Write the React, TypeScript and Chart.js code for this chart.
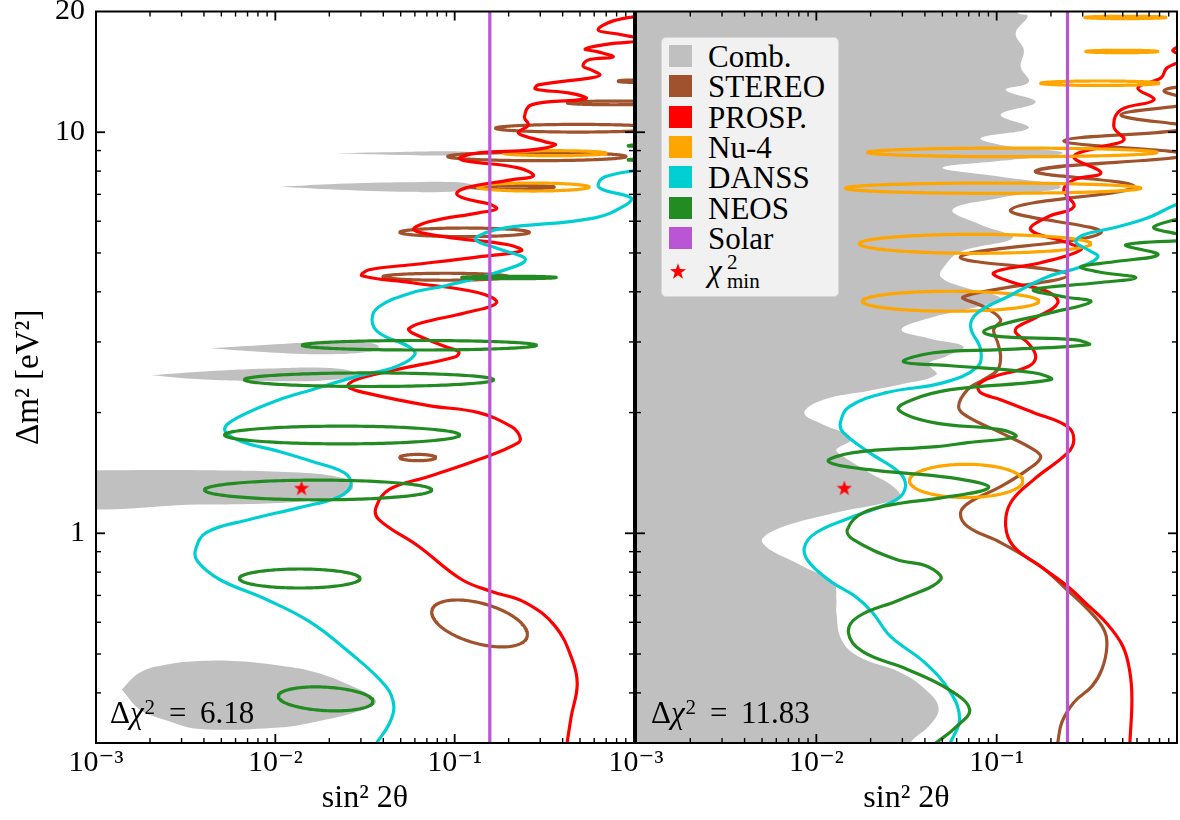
import React, { useEffect, useRef } from 'react';
import { Chart, registerables } from 'chart.js';

Chart.register(...registerables);

type P = [number, number];

const FONT = '"Liberation Serif", "DejaVu Serif", serif';
Chart.defaults.font.family = FONT;

// ---------- colours ----------
const C_COMB = '#c0c0c0';
const C_STEREO = '#a0522d';
const C_PROSP = '#ff0000';
const C_NU4 = '#ffa500';
const C_DANSS = '#00ced1';
const C_NEOS = '#228b22';
const C_SOLAR = '#ba55d3';

// ---------- axes ----------
const X_RANGE: P = [0.001, 1];
const Y_RANGE: P = [0.3, 20];
const X_LABEL_TICKS = [0.001, 0.01, 0.1, 1];
const X_TICK_LABELS = ['10⁻³', '10⁻²', '10⁻¹', ''];
const Y_LABEL_TICKS = [1, 10, 20];
const Y_TICK_LABELS = ['1', '10', '20'];
const X_MAJOR_TICKS = [0.001, 0.01, 0.1, 1];
const X_MINOR_TICKS = [0.002, 0.003, 0.004, 0.005, 0.006, 0.007, 0.008, 0.009, 0.02, 0.03, 0.04, 0.05, 0.06, 0.07, 0.08, 0.09, 0.2, 0.3, 0.4, 0.5, 0.6, 0.7, 0.8, 0.9];
const Y_MAJOR_TICKS = [1, 10];
const Y_MINOR_TICKS = [0.3, 0.4, 0.5, 0.6, 0.7, 0.8, 0.9, 2, 3, 4, 5, 6, 7, 8, 9, 20];
const X_TITLE = 'sin² 2θ';
const Y_TITLE = 'Δm² [eV²]';

// ---------- legend ----------
const LEGEND_LABELS = ['Comb.', 'STEREO', 'PROSP.', 'Nu-4', 'DANSS', 'NEOS', 'Solar'];
const LEGEND_COLORS = [C_COMB, C_STEREO, C_PROSP, C_NU4, C_DANSS, C_NEOS, C_SOLAR];
const DCHI2_LEFT = '6.18';
const DCHI2_RIGHT = '11.83';

// ---------- left panel data (sin^2 2θ, Δm^2) ----------
const GRAY_LEFT_1: P[] = [[0.02183, 8.867], [0.0489, 8.933], [0.1052, 8.959], [0.1395, 8.857], [0.1052, 8.755], [0.0489, 8.78], [0.02183, 8.867]];
const GRAY_LEFT_2: P[] = [[0.01066, 7.309], [0.01995, 7.414], [0.0489, 7.499], [0.1052, 7.499], [0.1325, 7.309], [0.1052, 7.123], [0.0489, 7.102], [0.01995, 7.205], [0.01066, 7.309]];
const GRAY_LEFT_3: P[] = [[0.00441, 2.894], [0.00815, 2.944], [0.01756, 2.996], [0.0333, 2.987], [0.0378, 2.919], [0.0333, 2.836], [0.01756, 2.796], [0.00815, 2.836], [0.00441, 2.894]];
const GRAY_LEFT_4: P[] = [[0.002047, 2.478], [0.00378, 2.529], [0.01052, 2.58], [0.02267, 2.573], [0.02818, 2.5], [0.02267, 2.423], [0.01052, 2.395], [0.00378, 2.423], [0.002047, 2.478]];
const GRAY_LEFT_5: P[] = [[0.000631, 1.433], [0.00378, 1.437], [0.0136, 1.417], [0.02417, 1.369], [0.02713, 1.307], [0.02417, 1.249], [0.0136, 1.199], [0.00378, 1.179], [0.000631, 1.179], [0.000631, 1.433]];
const GRAY_LEFT_6: P[] = [[0.001394, 0.4081], [0.001756, 0.4499], [0.00248, 0.471], [0.00378, 0.4805], [0.00631, 0.48], [0.01052, 0.4683], [0.01605, 0.4525], [0.02479, 0.4223], [0.0364, 0.3831], [0.0312, 0.3638], [0.01605, 0.3377], [0.01052, 0.3281], [0.00378, 0.3253], [0.00248, 0.3416], [0.001756, 0.3638], [0.001394, 0.4081]];

const PROSP_LEFT: P[] = [[0.424, 0.301], [0.447, 0.35], [0.4825, 0.42], [0.452, 0.4847], [0.364, 0.586], [0.248, 0.672], [0.1605, 0.716], [0.1094, 0.767], [0.0631, 0.927], [0.0378, 1.082], [0.0364, 1.159], [0.043, 1.285], [0.0717, 1.385], [0.136, 1.527], [0.2268, 1.683], [0.2297, 1.752], [0.2073, 1.844], [0.136, 1.999], [0.0717, 2.081], [0.0333, 2.229], [0.02544, 2.321], [0.02818, 2.416], [0.047, 2.558], [0.1013, 2.756], [0.1052, 2.836], [0.0891, 2.919], [0.0577, 3.163], [0.0555, 3.236], [0.0656, 3.35], [0.1151, 3.547], [0.1712, 3.757], [0.136, 3.979], [0.0577, 4.214], [0.03044, 4.387], [0.0333, 4.54], [0.0577, 4.672], [0.136, 4.891], [0.2356, 5.063], [0.1995, 5.24], [0.0891, 5.486], [0.0592, 5.711], [0.0717, 5.979], [0.136, 6.296], [0.1712, 6.442], [0.1545, 6.629], [0.1151, 6.822], [0.1026, 7.02], [0.1151, 7.267], [0.2073, 7.608], [0.2748, 7.785], [0.2268, 8.15], [0.1151, 8.484], [0.1066, 8.631], [0.136, 8.882], [0.2678, 9.036], [0.364, 9.299], [0.3203, 9.461], [0.2356, 9.849], [0.2268, 10.01], [0.2577, 10.43], [0.2448, 10.92], [0.2678, 11.7], [0.4886, 12.04], [0.5412, 12.18], [0.43, 12.53], [0.2818, 12.82], [0.2929, 13.12], [0.577, 13.66], [0.6474, 13.9], [0.577, 14.3], [0.5208, 14.63], [0.5553, 15.14], [0.7646, 15.4], [0.631, 15.86], [0.5342, 16.13], [0.7171, 16.59], [1.122, 16.98], [0.815, 17.57], [0.631, 17.98], [0.7646, 18.95], [1.196, 19.61]];

const DANSS_LEFT: P[] = [[0.03687, 0.301], [0.043, 0.334], [0.0458, 0.37], [0.0414, 0.415], [0.02479, 0.513], [0.01545, 0.603], [0.00891, 0.684], [0.00489, 0.767], [0.003687, 0.85], [0.003594, 0.911], [0.004136, 1.005], [0.00717, 1.082], [0.0136, 1.159], [0.02267, 1.234], [0.02644, 1.3225], [0.02417, 1.4165], [0.01605, 1.51], [0.01052, 1.599], [0.00631, 1.702], [0.00521, 1.813], [0.00615, 1.942], [0.01052, 2.154], [0.01605, 2.281], [0.02818, 2.458], [0.047, 2.602], [0.05995, 2.788], [0.0555, 2.919], [0.0378, 3.163], [0.0346, 3.408], [0.0378, 3.672], [0.0577, 3.979], [0.0891, 4.142], [0.169, 4.463], [0.248, 4.808], [0.1755, 5.121], [0.1308, 5.392], [0.1487, 5.614], [0.192, 5.777], [0.6072, 6.118], [0.9028, 6.591], [0.9623, 6.861], [0.6727, 7.184], [0.631, 7.393], [0.6901, 7.74], [1.052, 8.057]];

// rings: [x left, x right, y low, y high, (y at left tip, y at right tip)]
const NEOS_LEFT_RINGS: number[][] = [
  [0.1094, 0.3686, 4.312, 4.374],
  [0.01413, 0.2856, 2.864, 3.025],
  [0.00673, 0.1647, 2.323, 2.511],
  [0.00521, 0.1066, 1.671, 1.85],
  [0.004031, 0.0745, 1.212, 1.357],
  [0.00631, 0.02966, 0.7304, 0.8146],
  [0.01039, 0.03503, 0.3607, 0.414, 0.392, 0.3809],
  [0.926, 2.0, 9.2, 9.31],
  [0.926, 2.0, 8.49, 8.58],
];
const STEREO_LEFT_RINGS: number[][] = [
  [0.04948, 0.07839, 1.517, 1.573],
  [0.0745, 0.2544, 0.5207, 0.6819, 0.6347, 0.5594],
  [0.04948, 0.261, 5.492, 5.77],
  [0.03981, 0.1995, 4.275, 4.45],
  [0.1227, 0.3594, 7.225, 7.371],
  [0.09144, 0.903, 8.494, 8.908],
  [0.169, 1.4, 10.01, 10.46],
  [0.4244, 1.4, 11.71, 11.96],
  [0.815, 1.3, 13.31, 13.5],
];
const NU4_LEFT_RINGS: number[][] = [
  [0.1872, 0.6989, 8.74, 8.995],
  [0.1342, 0.5623, 7.135, 7.469],
];
const SOLAR_LEFT_X = 0.157;
const CHI2_MIN_LEFT: P = [0.014, 1.3];

// ---------- right panel data ----------
const GRAY_RIGHT: P[] = [[0.0009, 21], [0.1308, 20.76], [0.1308, 19.83], [0.1487, 19.49], [0.1275, 17.67], [0.1413, 16.04], [0.136, 14.55], [0.1506, 13.35], [0.1122, 12.75], [0.1647, 11.9], [0.1052, 11.05], [0.1506, 10.25], [0.0815, 9.68], [0.1052, 9.299], [0.2326, 8.882], [0.1052, 8.484], [0.0501, 8.15], [0.1052, 7.74], [0.2268, 7.309], [0.1052, 6.861], [0.0569, 6.405], [0.0815, 5.88], [0.1227, 5.454], [0.0631, 5.034], [0.0521, 4.672], [0.0489, 4.362], [0.0673, 4.095], [0.1052, 3.866], [0.0869, 3.714], [0.043, 3.447], [0.02966, 3.218], [0.043, 3.056], [0.0656, 2.919], [0.0521, 2.756], [0.0419, 2.647], [0.0464, 2.487], [0.02929, 2.348], [0.0197, 2.268], [0.01094, 2.154], [0.00858, 1.999], [0.01094, 1.866], [0.01413, 1.782], [0.01565, 1.712], [0.01292, 1.617], [0.01413, 1.554], [0.0197, 1.4165], [0.02679, 1.307], [0.02891, 1.227], [0.01292, 1.126], [0.005995, 1.022], [0.005012, 0.9482], [0.00847, 0.8263], [0.01243, 0.7539], [0.01292, 0.6839], [0.01292, 0.6347], [0.01377, 0.5437], [0.01711, 0.4931], [0.02929, 0.4499], [0.0403, 0.4081], [0.0476, 0.368], [0.043, 0.3339], [0.0333, 0.301], [0.0315, 0.28], [0.0009, 0.28], [0.0009, 21]];

const NEOS_RIGHT: P[] = [[1.359, 6.259], [0.7452, 5.81], [1.0, 5.58], [1.359, 5.42], [0.5208, 5.24], [0.7843, 4.95], [0.4467, 4.753], [0.2929, 4.618], [0.364, 4.488], [0.5919, 4.336], [0.364, 4.214], [0.1605, 4.048], [0.2356, 3.889], [0.3329, 3.778], [0.1995, 3.547], [0.1052, 3.31], [0.0847, 3.181], [0.1052, 3.092], [0.2678, 3.039], [0.3245, 2.953], [0.1052, 2.869], [0.0447, 2.82], [0.03044, 2.678], [0.0555, 2.617], [0.1605, 2.514], [0.1995, 2.416], [0.0555, 2.281], [0.0341, 2.154], [0.02855, 2.034], [0.0447, 1.887], [0.1052, 1.813], [0.1275, 1.742], [0.069, 1.683], [0.0464, 1.645], [0.01605, 1.589], [0.01166, 1.51], [0.0197, 1.441], [0.0555, 1.376], [0.0902, 1.3], [0.0464, 1.22], [0.03044, 1.192], [0.01824, 1.126], [0.01487, 1.022], [0.01605, 0.9647], [0.0278, 0.8602], [0.0414, 0.8263], [0.0489, 0.767], [0.02929, 0.6839], [0.01711, 0.6202], [0.01506, 0.5658], [0.018, 0.5075], [0.03202, 0.4577], [0.0541, 0.4081], [0.0708, 0.3638], [0.0592, 0.3281], [0.0464, 0.301]];

const DANSS_RIGHT: P[] = [[1.359, 6.861], [0.9873, 6.591], [0.6901, 6.118], [0.4467, 5.777], [0.3042, 5.549], [0.2748, 5.33], [0.3203, 5.092], [0.364, 4.891], [0.2929, 4.618], [0.192, 4.362], [0.1151, 3.889], [0.0784, 3.547], [0.0717, 3.272], [0.0815, 2.869], [0.0784, 2.602], [0.0508, 2.375], [0.02448, 2.242], [0.01526, 2.069], [0.0136, 1.887], [0.01413, 1.782], [0.0197, 1.589], [0.02891, 1.4165], [0.0312, 1.307], [0.0278, 1.213], [0.01605, 1.1006], [0.01, 1.0046], [0.00858, 0.9215], [0.00914, 0.8454], [0.01227, 0.7539], [0.01647, 0.6957], [0.02047, 0.6347], [0.02577, 0.5531], [0.0398, 0.4764], [0.0555, 0.4011], [0.0623, 0.3436], [0.0555, 0.301]];

const PROSP_RIGHT: P[] = [[1.359, 16.98], [0.9501, 16.04], [1.122, 15.31], [0.8799, 14.47], [0.815, 13.66], [0.6072, 12.9], [0.7452, 12.04], [0.4886, 11.37], [0.4467, 10.31], [0.5077, 9.57], [0.3784, 9.193], [0.2678, 8.68], [0.3784, 7.92], [0.2678, 7.608], [0.2356, 7.184], [0.2678, 6.521], [0.192, 6.153], [0.1545, 5.711], [0.248, 5.3], [0.2929, 5.092], [0.1755, 4.726], [0.0962, 4.463], [0.1243, 4.214], [0.192, 4.002], [0.2183, 3.757], [0.169, 3.467], [0.1308, 3.272], [0.1275, 3.163], [0.1487, 2.987], [0.1647, 2.756], [0.1487, 2.602], [0.0962, 2.458], [0.0794, 2.348], [0.0815, 2.242], [0.1052, 2.154], [0.1605, 1.999], [0.248, 1.844], [0.2678, 1.712], [0.248, 1.589], [0.1605, 1.361], [0.1196, 1.192], [0.1122, 1.04], [0.1243, 0.9268], [0.1755, 0.8263], [0.248, 0.7367], [0.3083, 0.6722], [0.4033, 0.5993], [0.5012, 0.5222], [0.5482, 0.4499], [0.5623, 0.3853], [0.5482, 0.301]];

const STEREO_RIGHT: P[] = [[1.359, 13.19], [0.8469, 12.68], [1.275, 11.9], [0.4886, 11.05], [1.196, 10.25], [0.2356, 9.516], [1.122, 8.78], [0.1647, 8.011], [0.577, 7.309], [0.1196, 6.405], [0.3784, 5.614], [0.0631, 4.891], [0.248, 4.411], [0.0656, 3.889], [0.0847, 3.672], [0.1052, 3.408], [0.0962, 3.218], [0.1013, 2.987], [0.1052, 2.756], [0.1013, 2.558], [0.0847, 2.416], [0.069, 2.281], [0.0615, 2.069], [0.069, 1.953], [0.1052, 1.782], [0.1605, 1.617], [0.1755, 1.545], [0.1487, 1.441], [0.1052, 1.307], [0.0717, 1.199], [0.0631, 1.126], [0.069, 1.04], [0.1052, 0.9482], [0.1755, 0.8263], [0.2448, 0.7242], [0.3203, 0.6457], [0.393, 0.5757], [0.4084, 0.5222], [0.3831, 0.4577], [0.3372, 0.4152], [0.2678, 0.3787], [0.2297, 0.3377], [0.2183, 0.301]];

const NU4_RIGHT_RINGS: number[][] = [
  [0.3083, 0.8687, 19.2, 19.46],
  [0.3122, 0.7843, 15.79, 16.01],
  [0.1755, 0.7943, 13.08, 13.42],
  [0.0192, 0.7743, 8.69, 9.13],
  [0.01449, 0.631, 7.041, 7.469],
  [0.01733, 0.3329, 4.99, 5.565],
  [0.018, 0.1712, 3.578, 4.013],
  [0.03286, 0.1395, 1.228, 1.486],
];
const SOLAR_RIGHT_X = 0.247;
const CHI2_MIN_RIGHT: P = [0.0143, 1.3];

// ---------- helpers ----------
const LINE_W = 3.2;
const toPts = (a: P[]) => a.map(([x, y]) => ({ x, y }));

function ringPts(r: number[]) {
  const [xl, xr, ylo, yhi, ytl, ytr] = r;
  const L = Math.log10;
  const cx = (L(xl) + L(xr)) / 2;
  const a = (L(xr) - L(xl)) / 2;
  const cy = (L(ylo) + L(yhi)) / 2;
  const R = (L(yhi) - L(ylo)) / 2;
  const c = ytl !== undefined ? (L(ytr) - L(ytl)) / 2 : 0;
  const b = Math.sqrt(Math.max(R * R - c * c, 1e-8));
  const pts: { x: number; y: number }[] = [];
  const n = 160;
  for (let i = 0; i <= n; i++) {
    const t = Math.PI / 2 + (i / n) * Math.PI * 2; // seam on the flat top side
    pts.push({ x: Math.pow(10, cx + a * Math.cos(t)), y: Math.pow(10, cy + c * Math.cos(t) + b * Math.sin(t)) });
  }
  return pts;
}

const lineStyle = { borderJoinStyle: 'round', borderCapStyle: 'round' };
const curve = (pts: P[], color: string, order: number) => ({
  data: toPts(pts), showLine: true, borderColor: color, borderWidth: LINE_W, pointRadius: 0,
  tension: 0.4, fill: false, order, clip: 0, ...lineStyle,
});
const ring = (r: number[], color: string, order: number) => ({
  data: ringPts(r), showLine: true, borderColor: color, borderWidth: LINE_W, pointRadius: 0,
  tension: 0, fill: false, order, clip: 0, ...lineStyle,
});
const blob = (pts: P[], color: string, order: number) => ({
  data: toPts(pts), showLine: true, borderColor: 'rgba(0,0,0,0)', borderWidth: 0, backgroundColor: color,
  pointRadius: 0, tension: 0.4, fill: 'shape', order,
});

function starPolygon(cx: number, cy: number, R: number, r: number) {
  const out: string[] = [];
  for (let i = 0; i < 10; i++) {
    const ang = -Math.PI / 2 + (i * Math.PI) / 5;
    const rad = i % 2 === 0 ? R : r;
    out.push(`${(cx + rad * Math.cos(ang)).toFixed(2)},${(cy + rad * Math.sin(ang)).toFixed(2)}`);
  }
  return out.join(' ');
}

function makeStarCanvas(size: number, color: string) {
  const c = document.createElement('canvas');
  c.width = size; c.height = size;
  const g = c.getContext('2d')!;
  g.fillStyle = color;
  g.beginPath();
  const R = size / 2, r = R * 0.4, cx = size / 2, cy = size / 2 + size * 0.06;
  for (let i = 0; i < 10; i++) {
    const ang = -Math.PI / 2 + (i * Math.PI) / 5;
    const rad = i % 2 === 0 ? R : r;
    const px = cx + rad * Math.cos(ang), py = cy + rad * Math.sin(ang);
    if (i === 0) g.moveTo(px, py); else g.lineTo(px, py);
  }
  g.closePath();
  g.fill();
  return c;
}

const starSet = (p: P, img: HTMLCanvasElement) => ({
  data: toPts([p]), showLine: false, pointStyle: img, pointRadius: 8, order: 0,
});

const framePlugin = {
  id: 'frame',
  afterDatasetsDraw(chart: any) {
    const { ctx, chartArea: a, scales } = chart;
    const xs = scales.x, ys = scales.y;
    ctx.save();
    ctx.strokeStyle = '#000';
    ctx.lineCap = 'butt';
    const seg = (x1: number, y1: number, x2: number, y2: number, w: number) => {
      ctx.lineWidth = w; ctx.beginPath(); ctx.moveTo(x1, y1); ctx.lineTo(x2, y2); ctx.stroke();
    };
    const drawX = (vals: number[], len: number, w: number) => {
      for (const v of vals) {
        const p = xs.getPixelForValue(v);
        if (p < a.left + 1 || p > a.right - 1) continue;
        seg(p, a.bottom, p, a.bottom - len, w);
        seg(p, a.top, p, a.top + len, w);
      }
    };
    const drawY = (vals: number[], len: number, w: number) => {
      for (const v of vals) {
        const p = ys.getPixelForValue(v);
        if (p < a.top + 1 || p > a.bottom - 1) continue;
        seg(a.left, p, a.left + len, p, w);
        seg(a.right, p, a.right - len, p, w);
      }
    };
    drawX(X_MAJOR_TICKS, 9, 1.8);
    drawX(X_MINOR_TICKS, 5, 1.4);
    drawY(Y_MAJOR_TICKS, 9, 1.8);
    drawY(Y_MINOR_TICKS, 5, 1.4);
    ctx.lineWidth = 2;
    ctx.strokeRect(a.left, a.top, a.right - a.left, a.bottom - a.top);
    ctx.restore();
  },
};

function makeOptions(showY: boolean, padLeft: number, padRight: number) {
  return {
    responsive: false,
    maintainAspectRatio: false,
    animation: false,
    events: [],
    layout: { autoPadding: false, padding: { left: padLeft, right: padRight, top: 11.5, bottom: 0 } },
    plugins: { legend: { display: false }, tooltip: { enabled: false } },
    elements: { point: { radius: 0, hoverRadius: 0 }, line: { capBezierPoints: false } },
    scales: {
      x: {
        type: 'logarithmic', min: X_RANGE[0], max: X_RANGE[1], position: 'bottom',
        grid: { display: false, drawTicks: false, tickLength: 0 },
        border: { display: false },
        afterBuildTicks: (s: any) => { s.ticks = X_LABEL_TICKS.map((v) => ({ value: v })); },
        afterFit: (s: any) => { s.height = 77; },
        ticks: {
          autoSkip: false, maxRotation: 0, minRotation: 0, padding: 2, color: '#000',
          font: { family: FONT, size: 30 },
          callback: (_v: any, i: number) => X_TICK_LABELS[i],
        },
        title: { display: true, text: X_TITLE, color: '#000', font: { family: FONT, size: 32 }, padding: { top: 0, bottom: 2 } },
      },
      y: {
        type: 'logarithmic', min: Y_RANGE[0], max: Y_RANGE[1], position: 'left', display: showY,
        grid: { display: false, drawTicks: false, tickLength: 0 },
        border: { display: false },
        afterBuildTicks: (s: any) => { s.ticks = Y_LABEL_TICKS.map((v) => ({ value: v })); },
        afterFit: (s: any) => { if (showY) { s.width = 96; } s.paddingTop = 0; s.paddingBottom = 0; },
        ticks: {
          autoSkip: false, padding: 11, color: '#000',
          font: { family: FONT, size: 30 },
          callback: (_v: any, i: number) => Y_TICK_LABELS[i],
        },
        title: { display: showY, text: Y_TITLE, color: '#000', font: { family: FONT, size: 33 }, padding: { top: 10, bottom: 0 } },
      },
    },
  };
}

export default function App() {
  const leftRef = useRef<HTMLCanvasElement>(null);
  const rightRef = useRef<HTMLCanvasElement>(null);

  useEffect(() => {
    const star = makeStarCanvas(16, C_PROSP);
    const leftData = [
      ...[GRAY_LEFT_1, GRAY_LEFT_2, GRAY_LEFT_3, GRAY_LEFT_4, GRAY_LEFT_5, GRAY_LEFT_6].map((p) => blob(p, C_COMB, 100)),
      ...STEREO_LEFT_RINGS.map((r) => ring(r, C_STEREO, 60)),
      ...NU4_LEFT_RINGS.map((r) => ring(r, C_NU4, 55)),
      curve(PROSP_LEFT, C_PROSP, 50),
      curve(DANSS_LEFT, C_DANSS, 40),
      ...NEOS_LEFT_RINGS.map((r) => ring(r, C_NEOS, 30)),
      curve([[SOLAR_LEFT_X, Y_RANGE[0]], [SOLAR_LEFT_X, Y_RANGE[1]]], C_SOLAR, 10),
      starSet(CHI2_MIN_LEFT, star),
    ];
    const rightData = [
      blob(GRAY_RIGHT, C_COMB, 100),
      curve(STEREO_RIGHT, C_STEREO, 60),
      curve(PROSP_RIGHT, C_PROSP, 55),
      ...NU4_RIGHT_RINGS.map((r) => ring(r, C_NU4, 50)),
      curve(DANSS_RIGHT, C_DANSS, 40),
      curve(NEOS_RIGHT, C_NEOS, 30),
      curve([[SOLAR_RIGHT_X, Y_RANGE[0]], [SOLAR_RIGHT_X, Y_RANGE[1]]], C_SOLAR, 10),
      starSet(CHI2_MIN_RIGHT, star),
    ];
    const left = new Chart(leftRef.current!, {
      type: 'scatter',
      data: { datasets: leftData as any },
      options: makeOptions(true, 0, 0) as any,
      plugins: [framePlugin],
    });
    const right = new Chart(rightRef.current!, {
      type: 'scatter',
      data: { datasets: rightData as any },
      options: makeOptions(false, 40, 3) as any,
      plugins: [framePlugin],
    });
    return () => { left.destroy(); right.destroy(); };
  }, []);

  const textAbs = (left: number, top: number, size: number): React.CSSProperties => ({
    position: 'absolute', left, top, fontSize: size, lineHeight: `${size}px`, whiteSpace: 'nowrap', color: '#000',
  });
  const sup: React.CSSProperties = { position: 'relative', top: '-0.45em', fontSize: '0.68em', lineHeight: 0, marginLeft: 1 };

  return (
    <div style={{ position: 'relative', width: 1180, height: 820, background: '#fff', fontFamily: FONT, overflow: 'hidden' }}>
      <style>{'body{margin:0}'}</style>
      <canvas ref={leftRef} width={636} height={820} style={{ position: 'absolute', left: 0, top: 0 }} />
      <canvas ref={rightRef} width={584} height={820} style={{ position: 'absolute', left: 596, top: 0 }} />

      <div style={{ ...textAbs(110, 697, 31), wordSpacing: 6 }}>
        Δ<i>χ</i><span style={sup}>2</span> = {DCHI2_LEFT}
      </div>
      <div style={{ ...textAbs(651, 697, 31), wordSpacing: 6 }}>
        Δ<i>χ</i><span style={sup}>2</span> = {DCHI2_RIGHT}
      </div>

      <div style={{ position: 'absolute', left: 661, top: 37, width: 178, height: 260, background: '#f1f1f1', border: '1px solid #d6d6d6', borderRadius: 5, boxSizing: 'border-box' }}>
        {LEGEND_LABELS.map((lab, i) => (
          <React.Fragment key={lab}>
            <div style={{ position: 'absolute', left: 7, top: 7 + i * 30.3, width: 23, height: 22, background: LEGEND_COLORS[i] }} />
            <div style={textAbs(46, 3 + i * 30.3, 31)}>{lab}</div>
          </React.Fragment>
        ))}
        <svg width={18} height={18} viewBox="0 0 18 18" style={{ position: 'absolute', left: 7, top: 224 }}>
          <polygon points={starPolygon(9, 9.8, 8.5, 3.4)} fill={C_PROSP} />
        </svg>
        <div style={textAbs(46, 217, 31)}><i>χ</i></div>
        <div style={textAbs(65, 214, 21)}>2</div>
        <div style={textAbs(65, 233, 21)}>min</div>
      </div>
    </div>
  );
}
